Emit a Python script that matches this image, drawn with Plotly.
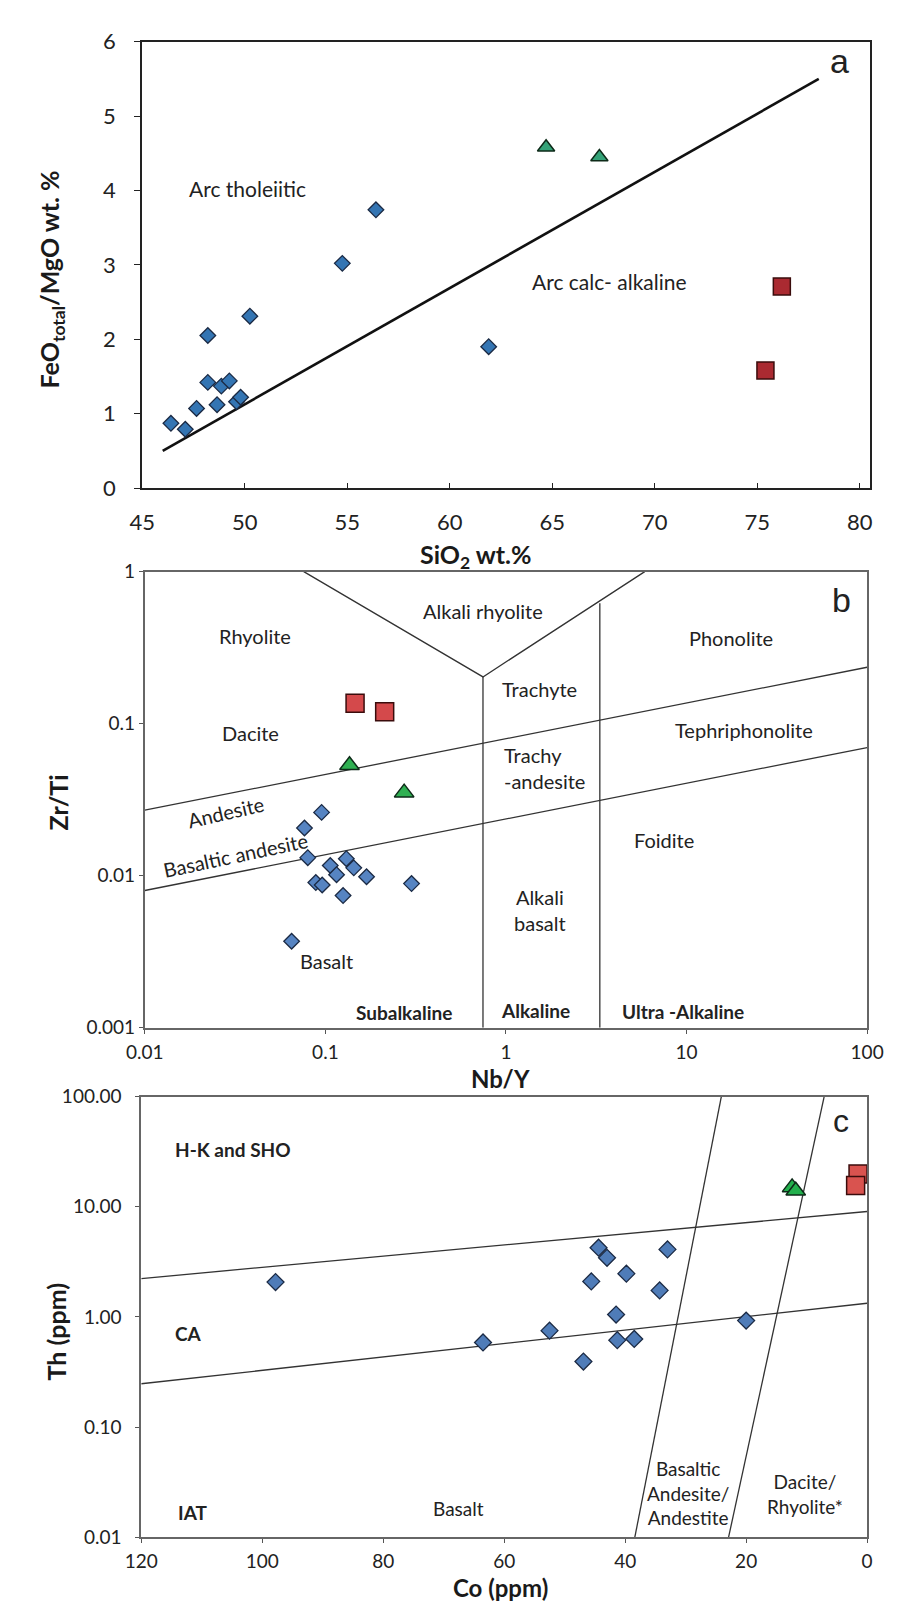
import numpy as np
import plotly.graph_objects as go

W, H = 903, 1608

# ---------------- Panel a data ----------------
a_blue_sio2 = [46.4, 47.1, 47.65, 48.2, 48.2, 48.65, 48.86, 49.25, 49.6, 49.8, 50.25, 54.76, 56.4, 61.9]
a_blue_ratio = [0.87, 0.79, 1.07, 2.05, 1.42, 1.12, 1.37, 1.44, 1.16, 1.22, 2.31, 3.02, 3.74, 1.90]
a_green_sio2 = [64.7, 67.3]
a_green_ratio = [4.58, 4.45]
a_red_sio2 = [76.2, 75.4]
a_red_ratio = [2.71, 1.58]
a_line_sio2 = [46.0, 78.0]
a_line_ratio = [0.5, 5.5]
a_xticks = [45, 50, 55, 60, 65, 70, 75, 80]
a_yticks = [0, 1, 2, 3, 4, 5, 6]

# ---------------- Panel b data ----------------
b_blue_nby = [0.0953, 0.0766, 0.0799, 0.1064, 0.1306, 0.1436, 0.1153, 0.169, 0.0885, 0.0960, 0.1253, 0.300, 0.065]
b_blue_zrti = [0.0261, 0.0206, 0.01315, 0.01168, 0.01295, 0.01127, 0.01016, 0.00985, 0.00902, 0.00869, 0.00741, 0.00888, 0.00371]
b_green_nby = [0.136, 0.273]
b_green_zrti = [0.0533, 0.0352]
b_red_nby = [0.146, 0.213]
b_red_zrti = [0.136, 0.120]
b_lines = [
    ([0.0759, 0.746, 5.87], [1.0, 0.203, 1.0]),
    ([0.746, 0.746], [0.203, 0.001]),
    ([3.31, 3.31], [0.62, 0.001]),
    ([0.01, 100], [0.027, 0.235]),
    ([0.01, 100], [0.0080, 0.0697]),
]
b_ticks = [0.01, 0.1, 1, 10, 100]
b_xticktext = ["0.01", "0.1", "1", "10", "100"]
b_yticks = [0.001, 0.01, 0.1, 1]
b_yticktext = ["0.001", "0.01", "0.1", "1"]

# ---------------- Panel c data ----------------
c_blue_co = [97.8, 63.5, 52.5, 44.4, 43.0, 33.0, 45.6, 39.8, 34.3, 41.5, 41.3, 38.5, 46.9, 20.0]
c_blue_th = [2.07, 0.586, 0.75, 4.25, 3.44, 4.10, 2.10, 2.47, 1.74, 1.05, 0.615, 0.63, 0.393, 0.925]
c_green_co = [12.4, 11.8]
c_green_th = [15.0, 14.0]
c_red_co = [1.5, 1.9]
c_red_th = [19.8, 15.6]
c_lines = [
    ([120, 0], [2.23, 9.06]),
    ([120, 0], [0.247, 1.33]),
    ([24.1, 38.4], [100, 0.01]),
    ([7.1, 22.9], [100, 0.01]),
]
c_xticks = [120, 100, 80, 60, 40, 20, 0]
c_yticks = [0.01, 0.1, 1, 10, 100]
c_yticktext = ["0.01", "0.10", "1.00", "10.00", "100.00"]

FONT = "Lato"
LETTER_FONT = "Liberation Sans"

fig = go.Figure()

def diamond(x, y, xa, ya, color, size):
    fig.add_trace(go.Scatter(x=x, y=y, xaxis=xa, yaxis=ya, mode="markers",
                             marker=dict(symbol="diamond", size=size, color=color,
                                         line=dict(color="#1b2a44", width=1.3)),
                             cliponaxis=True, showlegend=False))

def tri(x, y, xa, ya, color, size):
    fig.add_trace(go.Scatter(x=x, y=y, xaxis=xa, yaxis=ya, mode="markers",
                             marker=dict(symbol="triangle-up", size=size, color=color,
                                         line=dict(color="#0d2a18", width=1.5)),
                             cliponaxis=True, showlegend=False))

def square(x, y, xa, ya, color, size):
    fig.add_trace(go.Scatter(x=x, y=y, xaxis=xa, yaxis=ya, mode="markers",
                             marker=dict(symbol="square", size=size, color=color,
                                         line=dict(color="#3a0c0c", width=1.5)),
                             cliponaxis=True, showlegend=False))

def line(x, y, xa, ya, width=1.3, color="#333333"):
    fig.add_trace(go.Scatter(x=x, y=y, xaxis=xa, yaxis=ya, mode="lines",
                             line=dict(color=color, width=width),
                             hoverinfo="skip", showlegend=False))

# Panel a
line(a_line_sio2, a_line_ratio, "x", "y", width=2.6, color="#111111")
diamond(a_blue_sio2, a_blue_ratio, "x", "y", "#3475b3", 12)
tri(a_green_sio2, a_green_ratio, "x", "y", "#34a277", 15)
square(a_red_sio2, a_red_ratio, "x", "y", "#aa2a31", 17)

# Panel b
for xs, ys in b_lines:
    line(xs, ys, "x2", "y2")
diamond(b_blue_nby, b_blue_zrti, "x2", "y2", "#5684c2", 12)
tri(b_green_nby, b_green_zrti, "x2", "y2", "#2fb052", 17)
square(b_red_nby, b_red_zrti, "x2", "y2", "#d4494b", 18)

# Panel c
for xs, ys in c_lines:
    line(xs, ys, "x3", "y3")
diamond(c_blue_co, c_blue_th, "x3", "y3", "#4f7cb8", 13)
tri(c_green_co, c_green_th, "x3", "y3", "#22b04c", 17)
square(c_red_co, c_red_th, "x3", "y3", "#d9534f", 18)

def px_x(p):
    return p / W

def px_y(p):
    return 1 - p / H

tickfont_a = dict(family=FONT, size=22, color="#222222")
tickfont_bc = dict(family=FONT, size=19, color="#222222")

common = dict(showgrid=False, zeroline=False, showline=True, mirror=True)

fig.update_layout(
    width=W, height=H, autosize=False,
    margin=dict(l=0, r=0, t=0, b=0),
    paper_bgcolor="white", plot_bgcolor="white",
    showlegend=False,
    xaxis=dict(domain=[px_x(120), px_x(878)], anchor="y", range=[45, 80.5],
               tickvals=a_xticks, ticks="inside", ticklen=5, tickcolor="#222",
               tickfont=tickfont_a, linecolor="#222222", linewidth=2,
               ticklabelstandoff=14, **common),
    yaxis=dict(domain=[px_y(474), px_y(20)], anchor="x", range=[0, 6],
               tickvals=a_yticks, ticks="outside", ticklen=6, tickcolor="#222",
               tickfont=tickfont_a, linecolor="#222222", linewidth=2,
               ticklabelstandoff=14, **common),
    xaxis2=dict(domain=[px_x(122.7), px_x(875)], anchor="y2", type="log", range=[-2, 2],
                tickvals=b_ticks, ticktext=b_xticktext, ticks="outside", ticklen=4,
                tickcolor="#555", tickfont=tickfont_bc, linecolor="#666666", linewidth=2,
                ticklabelstandoff=2, **common),
    yaxis2=dict(domain=[px_y(1023), px_y(559)], anchor="x2", type="log", range=[-3, 0],
                tickvals=b_yticks, ticktext=b_yticktext, ticks="outside", ticklen=4,
                tickcolor="#555", tickfont=tickfont_bc, linecolor="#666666", linewidth=2,
                ticklabelstandoff=0, **common),
    xaxis3=dict(domain=[px_x(119), px_x(875)], anchor="y3", range=[120, 0],
                tickvals=c_xticks, ticks="outside", ticklen=4,
                tickcolor="#555", tickfont=tickfont_bc, linecolor="#666666", linewidth=2,
                ticklabelstandoff=2, **common),
    yaxis3=dict(domain=[px_y(1541), px_y(1093)], anchor="x3", type="log", range=[-2, 2],
                tickvals=c_yticks, ticktext=c_yticktext, ticks="outside", ticklen=4,
                tickcolor="#555", tickfont=tickfont_bc, linecolor="#666666", linewidth=2,
                ticklabelstandoff=10, **common),
)

ann = []

def txt(text, x, y, xref, yref, size=20, bold=False, angle=0, family=FONT, align="center", color="#222222"):
    if bold:
        text = "<b>" + text + "</b>"
    ann.append(dict(text=text, x=x, y=y, xref=xref, yref=yref, showarrow=False,
                    font=dict(family=family, size=size, color=color), textangle=angle,
                    align=align, xanchor="center", yanchor="middle"))

L = np.log10

# Panel a labels
txt("Arc tholeiitic", 50.15, 4.02, "x", "y", size=21)
txt("Arc calc- alkaline", 67.8, 2.77, "x", "y", size=21)
txt("a", 79.0, 5.74, "x", "y", size=34, family=LETTER_FONT)

# Panel b labels
txt("Rhyolite", L(0.0407), L(0.380), "x2", "y2")
txt("Dacite", L(0.0386), L(0.0869), "x2", "y2")
txt("Andesite", L(0.0281), L(0.0263), "x2", "y2", angle=-13)
txt("Basaltic andesite", L(0.0318), L(0.01364), "x2", "y2", angle=-12)
txt("Basalt", L(0.1009), L(0.00274), "x2", "y2")
txt("Alkali rhyolite", L(0.746), L(0.554), "x2", "y2")
txt("Trachyte", L(1.53), L(0.168), "x2", "y2")
txt("Trachy<br>-andesite", L(1.63), L(0.0512), "x2", "y2", align="left")
txt("Alkali<br>basalt", L(1.55), L(0.00591), "x2", "y2")
txt("Phonolite", L(17.6), L(0.366), "x2", "y2")
txt("Tephriphonolite", L(20.7), L(0.0905), "x2", "y2")
txt("Foidite", L(7.48), L(0.01726), "x2", "y2")
txt("Subalkaline", L(0.272), L(0.00126), "x2", "y2", bold=True, size=19)
txt("Alkaline", L(1.46), L(0.0013), "x2", "y2", bold=True, size=19)
txt("Ultra -Alkaline", L(9.55), L(0.00128), "x2", "y2", bold=True, size=19)
txt("b", L(72), L(0.647), "x2", "y2", size=34, family=LETTER_FONT)

# Panel c labels
txt("H-K and SHO", 104.8, L(33.2), "x3", "y3", bold=True, size=19)
txt("CA", 112.2, L(0.70), "x3", "y3", bold=True, size=19)
txt("IAT", 111.6, L(0.0169), "x3", "y3", bold=True, size=19)
txt("Basalt", 67.5, L(0.0182), "x3", "y3", size=19)
txt("Basaltic<br>Andesite/<br>Andestite", 29.6, L(0.0249), "x3", "y3", size=19)
txt("Dacite/<br>Rhyolite*", 10.3, L(0.0246), "x3", "y3", size=19)
txt("c", 4.24, L(60), "x3", "y3", size=32, family=LETTER_FONT)

# Axis titles (paper coordinates)
def title(text, xp, yp, angle=0, size=25):
    ann.append(dict(text="<b>" + text + "</b>", x=px_x(xp), y=px_y(yp), xref="paper", yref="paper",
                    showarrow=False, font=dict(family=FONT, size=size, color="#1a1a1a"),
                    textangle=angle, xanchor="center", yanchor="middle"))

title("SiO<sub>2</sub> wt.%", 468, 543)
title("FeO<sub>total</sub>/MgO wt. %", 25, 262, angle=-90)
title("Nb/Y", 493, 1075, size=24)
title("Zr/Ti", 32, 794, angle=-90)
title("Co (ppm)", 493, 1592, size=24)
title("Th (ppm)", 30, 1332, angle=-90)

fig.update_layout(annotations=ann)

fig.write_html("out.html")
